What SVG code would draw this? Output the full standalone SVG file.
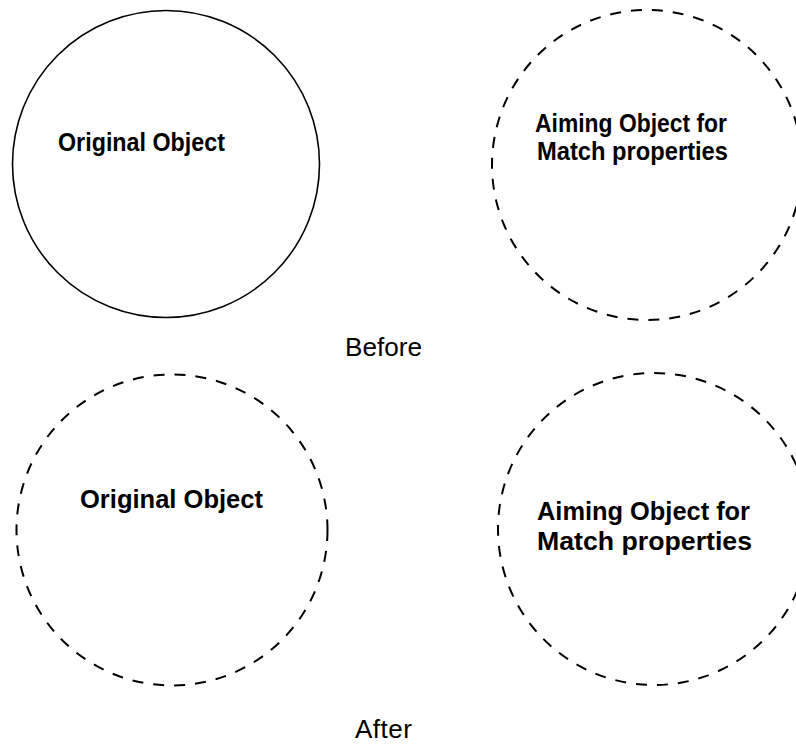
<svg xmlns="http://www.w3.org/2000/svg" width="796" height="744" viewBox="0 0 796 744">
  <style>
    .solid { fill: none; stroke: #000; stroke-width: 1.6; }
    .dashed { fill: none; stroke: #000; stroke-width: 2; stroke-dasharray: 11 10; }
    .lbl { font-family: "Liberation Sans", Arial, sans-serif; font-weight: bold; font-size: 25px; fill: #000; }
    .cap { font-family: "Liberation Sans", Arial, sans-serif; font-size: 26px; fill: #000; }
  </style>
  <rect x="0" y="0" width="796" height="744" fill="#fff"/>

  <g id="before-original">
    <circle class="solid" cx="166" cy="164" r="153.5"/>
    <text class="lbl" x="58" y="151" textLength="167" lengthAdjust="spacingAndGlyphs">Original Object</text>
  </g>

  <g id="before-aiming">
    <circle class="dashed" cx="647" cy="165" r="155"/>
    <text class="lbl" x="535" y="132" textLength="192" lengthAdjust="spacingAndGlyphs">Aiming Object for</text>
    <text class="lbl" x="537" y="160" textLength="191" lengthAdjust="spacingAndGlyphs">Match properties</text>
  </g>

  <g id="label-before">
    <text class="cap" x="345" y="356" textLength="77" lengthAdjust="spacingAndGlyphs">Before</text>
  </g>

  <g id="after-original">
    <circle class="dashed" cx="172" cy="530" r="155.5"/>
    <text class="lbl" x="80" y="508" textLength="183" lengthAdjust="spacingAndGlyphs">Original Object</text>
  </g>

  <g id="after-aiming">
    <circle class="dashed" cx="654" cy="529" r="156"/>
    <text class="lbl" x="537" y="520" textLength="213" lengthAdjust="spacingAndGlyphs">Aiming Object for</text>
    <text class="lbl" x="537" y="550" textLength="215" lengthAdjust="spacingAndGlyphs">Match properties</text>
  </g>

  <g id="label-after">
    <text class="cap" x="355" y="738" textLength="57" lengthAdjust="spacing">After</text>
  </g>
</svg>
